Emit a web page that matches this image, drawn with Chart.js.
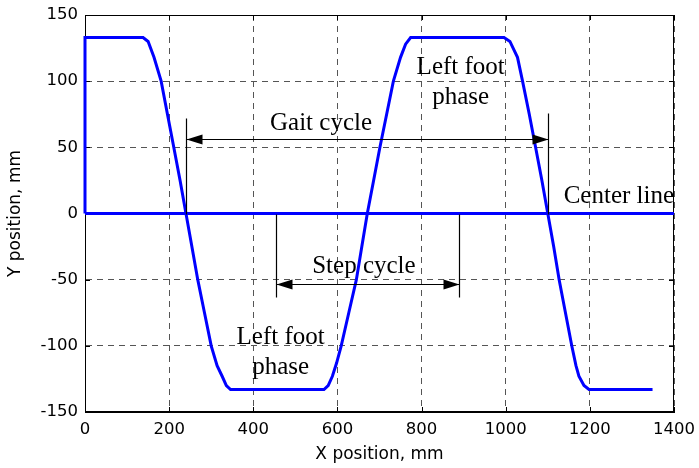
<!DOCTYPE html>
<html>
<head>
<meta charset="utf-8">
<script src="https://cdn.jsdelivr.net/npm/chart.js@4"></script>
<style>
  html, body { margin: 0; padding: 0; background: #fff; }
  #wrap { width: 699px; height: 468px; }
</style>
</head>
<body>
<div id="wrap"><canvas id="myChart" width="699" height="468"></canvas></div>
<script>
// foot trajectory (mm)
const curveX = [0, 0, 138, 150, 164, 181, 196, 211, 226, 240, 254, 268, 284, 300, 314, 326, 336, 346,
  568, 578, 588, 598, 609, 627, 645, 658, 671, 686, 701, 717, 733, 750, 762, 774,
  996, 1010, 1028, 1040, 1056, 1071, 1086, 1100, 1114, 1127, 1142, 1157, 1167, 1174, 1186, 1198, 1349];
const curveY = [0, 133, 133, 130, 118, 100, 75, 50, 25, 0, -25, -50, -75, -100, -115, -123, -130, -133,
  -133, -130, -123, -113, -100, -75, -50, -25, 0, 25, 50, 75, 100, 118, 128, 133,
  133, 130, 118, 100, 75, 50, 25, 0, -25, -50, -75, -100, -115, -123, -130, -133, -133];
const centerX = [0, 1400];
const centerY = [0, 0];

const xTicks = [0, 200, 400, 600, 800, 1000, 1200, 1400];
const yTicks = [-150, -100, -50, 0, 50, 100, 150];

// annotation values (data units)
const gaitCycle = { from: 240, to: 1100, y: 56, top1: 72, top2: 76 };
const stepCycle = { from: 453, to: 890, y: -53, bottom: -63 };
const labels = [
  { text: 'Gait cycle', x: 561, y: 68 },
  { text: 'Step cycle', x: 663, y: -40 },
  { text: 'Left foot', x: 893, y: 110 },
  { text: 'phase', x: 893, y: 88 },
  { text: 'Left foot', x: 465, y: -94 },
  { text: 'phase', x: 465, y: -116 },
  { text: 'Center line', x: 1269, y: 13 }
];

function toPoints(xs, ys) {
  return xs.map(function (x, i) { return { x: x, y: ys[i] }; });
}

// arrowhead with tip at (x, y) pointing in direction dir (-1 left, 1 right)
function arrowHead(ctx, x, y, dir) {
  ctx.beginPath();
  ctx.moveTo(x, y);
  ctx.lineTo(x - dir * 16, y - 5);
  ctx.lineTo(x - dir * 16, y + 5);
  ctx.closePath();
  ctx.fill();
}

const boxPlugin = {
  id: 'box',
  beforeDatasetsDraw(chart) {
    const ctx = chart.ctx;
    const a = chart.chartArea;
    const xs = chart.scales.x;
    const ys = chart.scales.y;
    ctx.save();
    ctx.strokeStyle = '#000';
    ctx.lineWidth = 1;
    ctx.strokeRect(a.left + 0.5, a.top + 0.5, a.right - a.left - 1, a.bottom - a.top - 1);
    // inward ticks like the original
    ctx.beginPath();
    xTicks.forEach(function (v) {
      const px = Math.round(xs.getPixelForValue(v)) + 0.5;
      ctx.moveTo(px, a.bottom); ctx.lineTo(px, a.bottom - 5);
      ctx.moveTo(px, a.top); ctx.lineTo(px, a.top + 5);
    });
    yTicks.forEach(function (v) {
      const py = Math.round(ys.getPixelForValue(v)) + 0.5;
      ctx.moveTo(a.left, py); ctx.lineTo(a.left + 5, py);
      ctx.moveTo(a.right, py); ctx.lineTo(a.right - 5, py);
    });
    ctx.stroke();
    ctx.restore();
  },
  afterDatasetsDraw(chart) {
    const ctx = chart.ctx;
    const xs = chart.scales.x;
    const ys = chart.scales.y;
    const X = function (v) { return Math.round(xs.getPixelForValue(v)) + 0.5; };
    const Y = function (v) { return Math.round(ys.getPixelForValue(v)) + 0.5; };
    ctx.save();
    ctx.strokeStyle = '#000';
    ctx.fillStyle = '#000';
    ctx.lineWidth = 1.2;

    // gait cycle
    ctx.beginPath();
    ctx.moveTo(X(gaitCycle.from), Y(gaitCycle.top1)); ctx.lineTo(X(gaitCycle.from), Y(0));
    ctx.moveTo(X(gaitCycle.to), Y(gaitCycle.top2)); ctx.lineTo(X(gaitCycle.to), Y(0));
    ctx.moveTo(X(gaitCycle.from), Y(gaitCycle.y)); ctx.lineTo(X(gaitCycle.to), Y(gaitCycle.y));
    ctx.stroke();
    arrowHead(ctx, X(gaitCycle.from), Y(gaitCycle.y), -1);
    arrowHead(ctx, X(gaitCycle.to), Y(gaitCycle.y), 1);

    // step cycle
    ctx.beginPath();
    ctx.moveTo(X(stepCycle.from), Y(0)); ctx.lineTo(X(stepCycle.from), Y(stepCycle.bottom));
    ctx.moveTo(X(stepCycle.to), Y(0)); ctx.lineTo(X(stepCycle.to), Y(stepCycle.bottom));
    ctx.moveTo(X(stepCycle.from), Y(stepCycle.y)); ctx.lineTo(X(stepCycle.to), Y(stepCycle.y));
    ctx.stroke();
    arrowHead(ctx, X(stepCycle.from), Y(stepCycle.y), -1);
    arrowHead(ctx, X(stepCycle.to), Y(stepCycle.y), 1);

    // text
    ctx.font = '25px "Liberation Serif", "Times New Roman", serif';
    ctx.textAlign = 'center';
    ctx.textBaseline = 'middle';
    labels.forEach(function (l) {
      ctx.fillText(l.text, xs.getPixelForValue(l.x), ys.getPixelForValue(l.y));
    });
    ctx.restore();
  }
};

function plainTick(value) {
  return String(value);
}

const ctx = document.getElementById('myChart').getContext('2d');

// eslint-disable-next-line
const chart = new Chart(ctx, {
  type: 'line',
  data: {
    datasets: [
      {
        label: 'Trajectory',
        data: toPoints(curveX, curveY),
        borderColor: '#0000FF',
        borderWidth: 3,
        pointRadius: 0,
        tension: 0,
        clip: 3
      },
      {
        label: 'Center line',
        data: toPoints(centerX, centerY),
        borderColor: '#0000FF',
        borderWidth: 3,
        pointRadius: 0,
        tension: 0,
        clip: 3
      }
    ]
  },
  options: {
    responsive: false,
    animation: false,
    layout: { padding: { top: 15, right: 25, left: 0, bottom: 0 } },
    plugins: {
      legend: { display: false },
      tooltip: { enabled: false }
    },
    scales: {
      x: {
        type: 'linear',
        min: 0,
        max: 1400,
        afterFit: function (s) { s.height = 56; s.paddingRight = 0; s.paddingLeft = 0; },
        afterBuildTicks: function (s) { s.ticks = xTicks.map(function (v) { return { value: v }; }); },
        ticks: {
          padding: 8,
          color: '#000',
          maxRotation: 0,
          callback: plainTick,
          font: { family: '"DejaVu Sans", sans-serif', size: 16.5 }
        },
        grid: { color: '#555', lineWidth: 1, drawTicks: false },
        border: { display: true, color: '#000', width: 1, dash: [6, 5] },
        title: {
          display: true,
          text: 'X position, mm',
          color: '#000',
          padding: { top: 0, bottom: 3 },
          font: { family: '"DejaVu Sans", sans-serif', size: 17 }
        }
      },
      y: {
        type: 'linear',
        min: -150,
        max: 150,
        afterFit: function (s) { s.width = 85; s.paddingTop = 0; s.paddingBottom = 0; },
        afterBuildTicks: function (s) { s.ticks = yTicks.map(function (v) { return { value: v }; }); },
        ticks: {
          padding: 7,
          color: '#000',
          callback: plainTick,
          font: { family: '"DejaVu Sans", sans-serif', size: 16.5 }
        },
        grid: { color: '#555', lineWidth: 1, drawTicks: false },
        border: { display: true, color: '#000', width: 1, dash: [6, 5] },
        title: {
          display: true,
          text: 'Y position, mm',
          color: '#000',
          padding: { top: 5, bottom: 0 },
          font: { family: '"DejaVu Sans", sans-serif', size: 17 }
        }
      }
    }
  },
  plugins: [boxPlugin]
});
</script>
</body>
</html>
